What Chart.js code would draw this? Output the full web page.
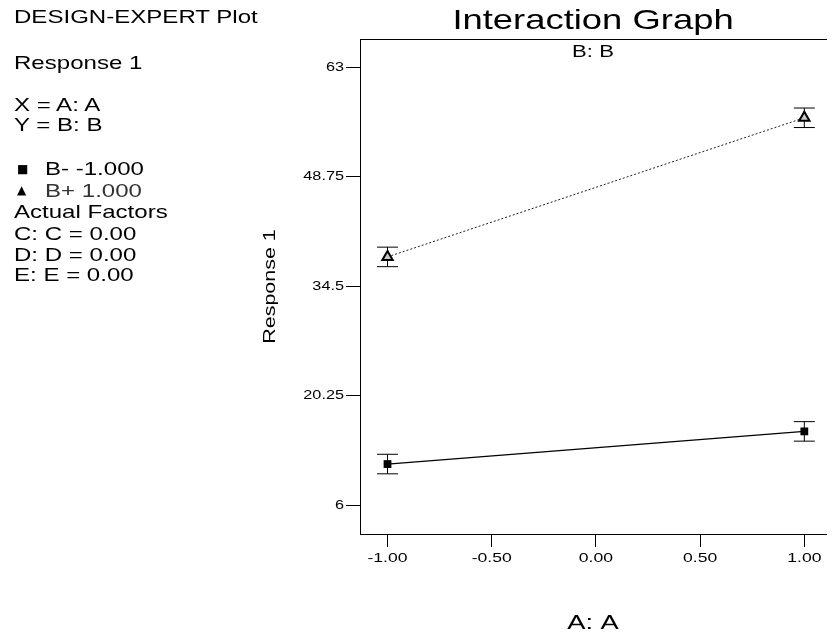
<!DOCTYPE html>
<html>
<head>
<meta charset="utf-8">
<script src="https://cdn.jsdelivr.net/npm/chart.js@4.4.0/dist/chart.umd.min.js"></script>
<style>
  html, body { margin: 0; padding: 0; background: #fff; overflow: hidden; }
  #wrap { position: relative; width: 834px; height: 636px; background: #fff; }
  #c { position: absolute; left: 0; top: 0; }
  #panel { position: absolute; left: 0; top: 0; width: 300px; height: 300px;
           font-family: "Liberation Sans", Arial, sans-serif; font-size: 18.5px;
           line-height: 18px; color: #000; }
  #panel .ln { position: absolute; left: 14px; white-space: nowrap;
               transform: scaleX(1.3); transform-origin: 0 50%; }
  #panel .mk { position: absolute; left: 17px; font-family: "DejaVu Sans", sans-serif;
               font-size: 12px; line-height: 12px; }
</style>
</head>
<body>
<div id="wrap">
  <canvas id="c" width="834" height="636"></canvas>
  <div id="panel"></div>
</div>
<script>
// ---------- data ----------
const panelTitle = 'DESIGN-EXPERT Plot';
const panelResponse = 'Response 1';
const panelAxes = ['X = A: A', 'Y = B: B'];
const seriesNames = ['B- -1.000', 'B+ 1.000'];
const seriesSymbols = ['\u25A0', '\u25B2'];
const factorLines = ['Actual Factors', 'C: C = 0.00', 'D: D = 0.00', 'E: E = 0.00'];

const factorA = [-1, 1];                 // A: A levels
const bMinus = [11.35, 15.6];            // B- series (Response 1)
const bPlus = [38.3, 56.4];              // B+ series (Response 1)
const bMinusErr = [1.27, 1.27];          // half-length of error bars
const bPlusErr = [1.27, 1.27];

const xTickValues = [-1, -0.5, 0, 0.5, 1];
const xTickLabels = ['-1.00', '-0.50', '0.00', '0.50', '1.00'];
const yTickValues = [6, 20.25, 34.5, 48.75, 63];
const yTickLabels = ['6', '20.25', '34.5', '48.75', '63'];

const chartTitle = 'Interaction Graph';
const chartSubtitle = 'B: B';
const xTitle = 'A: A';
const yTitle = 'Response 1';

// ---------- left text panel ----------
(function buildPanel() {
  const panel = document.getElementById('panel');
  function line(text, cy, left, color) {
    const d = document.createElement('div');
    d.className = 'ln';
    d.textContent = text;
    d.style.top = (cy - 9) + 'px';
    if (left) d.style.left = left + 'px';
    if (color) d.style.color = color;
    panel.appendChild(d);
  }
  function mark(sym, cy) {
    const d = document.createElement('div');
    d.className = 'mk';
    d.textContent = sym;
    d.style.top = (cy - 6) + 'px';
    panel.appendChild(d);
  }
  line(panelTitle, 17);
  line(panelResponse, 63);
  line(panelAxes[0], 105);
  line(panelAxes[1], 125);
  mark(seriesSymbols[0], 169); line(seriesNames[0], 169, 45);
  mark(seriesSymbols[1], 190); line(seriesNames[1], 191, 45, '#333');
  const fy = [212, 234, 255, 275];
  factorLines.forEach((t, i) => line(t, fy[i]));
})();

// ---------- wide text look: stretch canvas glyphs horizontally along baseline ----------
const canvas = document.getElementById('c');
const ctx = canvas.getContext('2d');
(function installStretch(c, sx) {
  const P = CanvasRenderingContext2D.prototype;
  const origFill = P.fillText, origMeasure = P.measureText;
  c.fillText = function (text, x, y, maxWidth) {
    this.save();
    this.translate(x, y);
    this.scale(sx, 1);
    if (maxWidth === undefined || maxWidth === null) origFill.call(this, text, 0, 0);
    else origFill.call(this, text, 0, 0, maxWidth / sx);
    this.restore();
  };
  c.measureText = function (text) {
    const m = origMeasure.call(this, text);
    return {
      width: m.width * sx,
      actualBoundingBoxLeft: m.actualBoundingBoxLeft * sx,
      actualBoundingBoxRight: m.actualBoundingBoxRight * sx,
      actualBoundingBoxAscent: m.actualBoundingBoxAscent,
      actualBoundingBoxDescent: m.actualBoundingBoxDescent,
      fontBoundingBoxAscent: m.fontBoundingBoxAscent,
      fontBoundingBoxDescent: m.fontBoundingBoxDescent
    };
  };
})(ctx, 1.3);

// ---------- error bar plugin ----------
const errorBars = {
  id: 'errorBars',
  beforeDatasetsDraw(chart) {
    const c = chart.ctx;
    const xs = chart.scales.x, ys = chart.scales.y;
    c.save();
    c.strokeStyle = '#000';
    c.lineWidth = 1;
    chart.data.datasets.forEach(ds => {
      ds.data.forEach((p, i) => {
        const px = xs.getPixelForValue(p.x);
        const pt = ys.getPixelForValue(p.y + ds.errors[i]);
        const pb = ys.getPixelForValue(p.y - ds.errors[i]);
        const hw = 10.5;
        c.beginPath();
        c.moveTo(px, pt); c.lineTo(px, pb);
        c.moveTo(px - hw, pt); c.lineTo(px + hw, pt);
        c.moveTo(px - hw, pb); c.lineTo(px + hw, pb);
        c.stroke();
      });
    });
    c.restore();
  }
};

const whiteBg = {
  id: 'whiteBg',
  beforeDraw(chart) {
    const c = chart.ctx;
    c.save();
    c.fillStyle = '#fff';
    c.fillRect(0, 0, chart.width, chart.height);
    c.restore();
  }
};

Chart.defaults.font.family = '"Liberation Sans", Arial, sans-serif';
Chart.defaults.color = '#000';

const X_MIN = -1.132, X_MAX = 1.104;

new Chart(ctx, {
  type: 'line',
  data: {
    datasets: [
      {
        label: seriesNames[0],
        data: factorA.map((a, i) => ({ x: a, y: bMinus[i] })),
        errors: bMinusErr,
        borderColor: '#000',
        borderWidth: 1.3,
        pointStyle: 'rect',
        pointRadius: 5.5,
        pointBackgroundColor: '#000',
        pointBorderColor: '#000',
        pointBorderWidth: 0,
        tension: 0,
        fill: false
      },
      {
        label: seriesNames[1],
        data: factorA.map((a, i) => ({ x: a, y: bPlus[i] })),
        errors: bPlusErr,
        borderColor: '#222',
        borderWidth: 1,
        borderDash: [2, 2],
        pointStyle: 'triangle',
        pointRadius: 6,
        pointBackgroundColor: '#c8c8c8',
        pointBorderColor: '#000',
        pointBorderWidth: 2,
        tension: 0,
        fill: false
      }
    ]
  },
  options: {
    responsive: false,
    animation: false,
    devicePixelRatio: 1,
    layout: { padding: { left: 260, right: 0, top: 0, bottom: 0 } },
    plugins: {
      legend: { display: false },
      tooltip: { enabled: false },
      title: {
        display: true, text: chartTitle, fullSize: false, color: '#000',
        font: { size: 28, weight: 'normal', lineHeight: 1.2 },
        padding: { top: 4, bottom: 0 }
      },
      subtitle: {
        display: true, text: chartSubtitle, fullSize: false, color: '#000',
        font: { size: 17, weight: 'normal', lineHeight: 1.2 },
        padding: { top: 4.4, bottom: -23.4 }
      }
    },
    scales: {
      x: {
        type: 'linear', position: 'bottom', min: X_MIN, max: X_MAX,
        afterBuildTicks: s => { s.ticks = xTickValues.map(v => ({ value: v })); },
        afterFit: s => { s.height = 102; },
        ticks: {
          callback: (v, i) => xTickLabels[i],
          font: { size: 13.5 }, color: '#000', padding: 3,
          maxRotation: 0, autoSkip: false
        },
        grid: { display: true, drawOnChartArea: false, drawTicks: true, tickLength: 13, color: '#000', lineWidth: 1 },
        border: { display: true, color: '#000', width: 1 },
        title: { display: true, text: xTitle, color: '#000', font: { size: 21, lineHeight: 1.2 }, padding: { top: 0, bottom: 0 } }
      },
      x2: {
        type: 'linear', position: 'top', min: X_MIN, max: X_MAX, display: true,
        ticks: { display: false },
        grid: { display: false, drawTicks: false },
        border: { display: true, color: '#000', width: 1 },
        afterFit: s => { s.height = 0; }
      },
      y: {
        type: 'linear', position: 'left', min: 2.25, max: 66.65,
        afterBuildTicks: s => { s.ticks = yTickValues.map(v => ({ value: v })); },
        afterFit: s => { s.width = 100; },
        ticks: {
          callback: (v, i) => yTickLabels[i],
          font: { size: 12.5 }, color: '#000', padding: 2, autoSkip: false
        },
        grid: { display: true, drawOnChartArea: false, drawTicks: true, tickLength: 14, color: '#000', lineWidth: 1 },
        border: { display: true, color: '#000', width: 1 },
        title: { display: true, text: yTitle, color: '#000', font: { size: 16.5, lineHeight: 1.2 }, padding: { top: 0.2, bottom: 0 } }
      }
    }
  },
  plugins: [whiteBg, errorBars]
});
</script>
</body>
</html>
